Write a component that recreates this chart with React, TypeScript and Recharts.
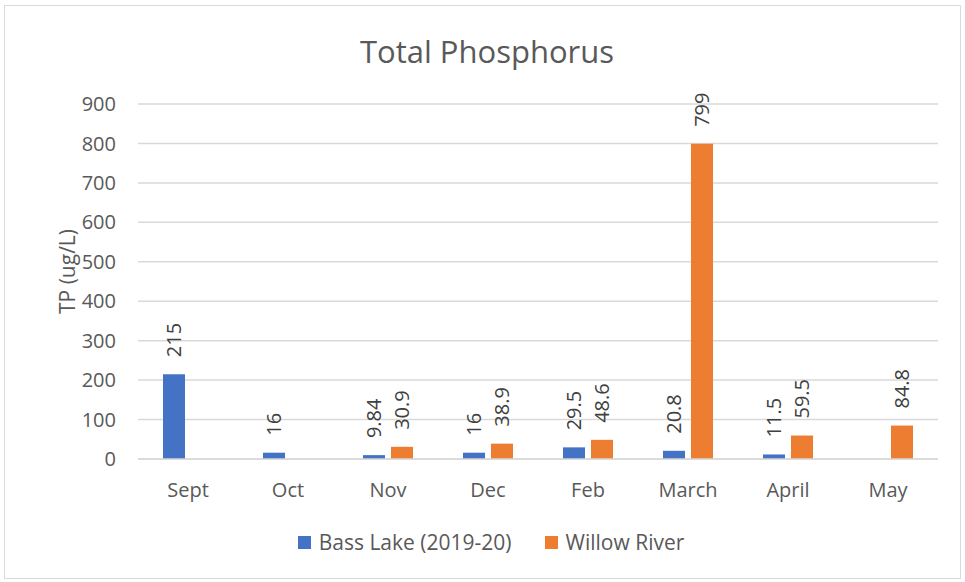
import { BarChart, Bar, XAxis, YAxis, CartesianGrid, LabelList } from "recharts";

const months = ["Sept", "Oct", "Nov", "Dec", "Feb", "March", "April", "May"];
const bassLake = [215, 16, 9.84, 16, 29.5, 20.8, 11.5, null];
const willowRiver = [null, null, 30.9, 38.9, 48.6, 799, 59.5, 84.8];
const yTicks = [0, 100, 200, 300, 400, 500, 600, 700, 800, 900];

const series = [
  { key: "bass", name: "Bass Lake (2019-20)", color: "#4472C4" },
  { key: "willow", name: "Willow River", color: "#ED7D31" },
];

const data = months.map((m, i) => ({
  month: m,
  bass: bassLake[i],
  willow: willowRiver[i],
}));

const FONT = "'Open Sans', sans-serif";
const TEXT = "#595959";

const RotatedLabel = (props: any) => {
  const { x, y, width, value } = props;
  if (value === null || value === undefined) return null;
  const cx = x + width / 2;
  const cy = y - 17;
  return (
    <text
      x={cx}
      y={cy}
      transform={`rotate(-90 ${cx} ${cy})`}
      textAnchor="start"
      dominantBaseline="central"
      fontSize={20}
      fill="#404040"
      fontFamily={FONT}
    >
      {value}
    </text>
  );
};

export default function App() {
  return (
    <div
      style={{
        position: "absolute",
        left: 0,
        top: 0,
        width: 965,
        height: 582,
        background: "#fff",
        fontFamily: FONT,
      }}
    >
      <div
        style={{
          position: "absolute",
          left: 4,
          top: 5,
          width: 957,
          height: 574,
          border: "1px solid #d9d9d9",
          boxSizing: "border-box",
        }}
      />
      <div
        style={{
          position: "absolute",
          top: 30,
          left: 0,
          width: 974,
          textAlign: "center",
          fontSize: 31,
          lineHeight: "42px",
          color: TEXT,
        }}
      >
        Total Phosphorus
      </div>
      <div style={{ position: "absolute", left: 0, top: 0 }}>
        <BarChart
          width={965}
          height={582}
          data={data}
          margin={{ top: 104, right: 27, bottom: 93, left: 78 }}
          barSize={22}
          barGap={6}
        >
          <CartesianGrid vertical={false} stroke="#d9d9d9" strokeWidth={1.5} />
          <XAxis
            dataKey="month"
            height={30}
            axisLine={{ stroke: "#d9d9d9", strokeWidth: 1.5 }}
            tickLine={false}
            tickMargin={18}
            tick={{ fontSize: 20, fill: TEXT, fontFamily: FONT }}
            interval={0}
          />
          <YAxis
            width={60}
            domain={[0, 900]}
            ticks={yTicks}
            axisLine={false}
            tickLine={false}
            tickMargin={16}
            tick={{ fontSize: 20, fill: TEXT, fontFamily: FONT }}
            label={{
              value: "TP (ug/L)",
              angle: -90,
              position: "center",
              dx: -40,
              dy: -10,
              style: { fontSize: 21, fill: TEXT, fontFamily: FONT },
            }}
          />
          {series.map((s) => (
            <Bar key={s.key} dataKey={s.key} name={s.name} fill={s.color} isAnimationActive={false}>
              <LabelList dataKey={s.key} content={RotatedLabel} />
            </Bar>
          ))}
        </BarChart>
      </div>
      <div
        style={{
          position: "absolute",
          top: 528,
          left: 0,
          width: 982,
          display: "flex",
          justifyContent: "center",
          alignItems: "center",
          fontSize: 21,
          color: TEXT,
          lineHeight: "28px",
        }}
      >
        {series.map((s, i) => (
          <div
            key={s.key}
            style={{ display: "flex", alignItems: "center", marginLeft: i === 0 ? 0 : 33 }}
          >
            <span
              style={{
                display: "inline-block",
                width: 13,
                height: 13,
                background: s.color,
                marginRight: 8,
              }}
            />
            <span>{s.name}</span>
          </div>
        ))}
      </div>
    </div>
  );
}
